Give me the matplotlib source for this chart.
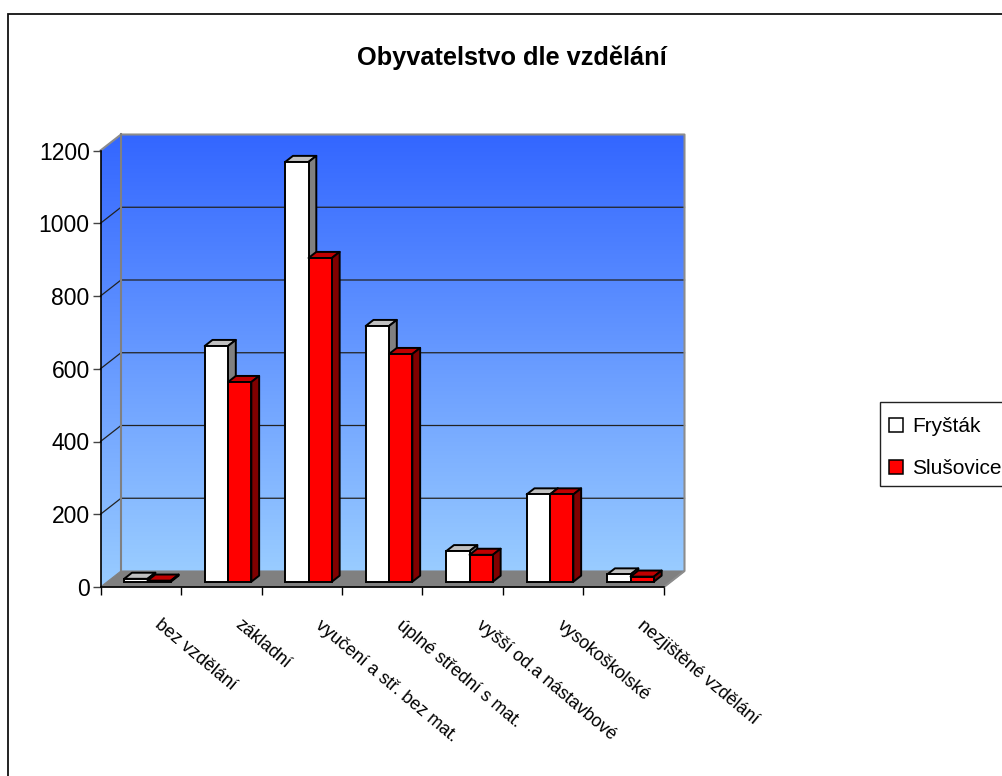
import matplotlib
matplotlib.use("Agg")
import matplotlib.pyplot as plt
from matplotlib.colors import LinearSegmentedColormap
from matplotlib.patches import Patch, Polygon, Rectangle
import numpy as np

plt.rcParams['font.family'] = ['Liberation Sans', 'DejaVu Sans']

categories = ['bez vzdělání', 'základní', 'vyučení a stř. bez mat.', 'úplné střední s mat.',
              'vyšší od.a nástavbové', 'vysokoškolské', 'nezjištěné vzdělání']
frystak = [8, 648, 1154, 703, 84, 240, 20]
slusovice = [3, 549, 890, 626, 74, 240, 14]
yticks = [0, 200, 400, 600, 800, 1000, 1200]

W, H = 1003, 776
fig = plt.figure(figsize=(W / 100, H / 100), dpi=100)
fig.patches.append(Rectangle((8.5 / W, -0.1), 1.2, (H - 13.5) / H + 0.1, transform=fig.transFigure,
                             fc='white', ec='#111111', lw=1.3, zorder=-1))
# legend frame runs off the right edge
fig.patches.append(Rectangle((880.5 / W, (H - 486) / H), 0.2, 84 / H, transform=fig.transFigure,
                             fc='white', ec='#222222', lw=1.0, zorder=-0.5))

# front plane of the 3d box, in pixels
left, right, top, bottom = 100.5, 664, 150.5, 587
ax = fig.add_axes([left / W, (H - bottom) / H, (right - left) / W, (bottom - top) / H])
ax.patch.set_visible(False)
n = len(categories)

# depth of the box in data units
DX = 20.5 / ((right - left) / n)
DY = 16 / ((bottom - top) / 1200)


def proj(x, v, d):
    return (x + d * DX, v + d * DY)


# walls
cmap = LinearSegmentedColormap.from_list('wall', ['#3366FF', '#99CCFF'])
grad = np.linspace(0, 1, 256).reshape(-1, 1)
ax.imshow(grad, cmap=cmap, aspect='auto', extent=(DX, n + DX, DY, 1200 + DY), zorder=1, clip_on=False)
side = Polygon([proj(0, 0, 0), proj(0, 0, 1), proj(0, 1200, 1), proj(0, 1200, 0)], closed=True,
               transform=ax.transData, fc='none', ec='none')
ax.add_patch(side)
im = ax.imshow(grad, cmap=cmap, aspect='auto', extent=(0, DX, 0, 1200 + DY), zorder=1, clip_on=True)
im.set_clip_path(side)
im.set_clip_box(fig.bbox)
ax.add_patch(Polygon([proj(0, 0, 0), proj(n, 0, 0), proj(n, 0, 1), proj(0, 0, 1)], closed=True,
                     fc='#808080', ec='#808080', lw=0.8, zorder=2, clip_on=False))
ax.set_xlim(0, n)
ax.set_ylim(0, 1200)

# gridlines
for t in yticks[1:-1]:
    ax.plot(*zip(proj(0, t, 0), proj(0, t, 1), proj(n, t, 1)), color='#222222', lw=0.9, zorder=3, clip_on=False)
# box edges
ax.plot(*zip(proj(0, 1200, 0), proj(0, 1200, 1), proj(n, 1200, 1), proj(n, 0, 1), proj(n, 0, 0)),
        color='#8c8c8c', lw=1.5, zorder=3, clip_on=False)
ax.plot(*zip(proj(0, 0, 1), proj(0, 1200, 1)), color='#808080', lw=1.5, zorder=3, clip_on=False)

# bars
d0, d1 = 0.33, 0.71
bw = 0.29
z = 5
for vals, off, front, top_c, side_c in [(frystak, -bw, 'white', '#C0C0C0', '#808080'),
                                        (slusovice, 0, '#FF0000', '#C00000', '#800000')]:
    for i, v in enumerate(vals):
        x0 = i + 0.5 + off
        x1 = x0 + bw
        ax.add_patch(Polygon([proj(x0, v, d0), proj(x1, v, d0), proj(x1, v, d1), proj(x0, v, d1)], closed=True,
                             fc=top_c, ec='black', lw=1.4, zorder=z, clip_on=False, joinstyle='round'))
        ax.add_patch(Polygon([proj(x1, 0, d0), proj(x1, 0, d1), proj(x1, v, d1), proj(x1, v, d0)], closed=True,
                             fc=side_c, ec='black', lw=1.4, zorder=z, clip_on=False, joinstyle='round'))
        fx, fy = proj(x0, 0, d0)
        ax.bar(fx, v, bw, bottom=fy, align='edge', color=front, edgecolor='black', lw=1.4, zorder=z + 1, clip_on=False)
    z += 2

ax.set_xlim(0, n)
ax.set_ylim(0, 1200)
ax.set_yticks(yticks)
ax.set_xticks(range(n + 1))
ax.set_xticklabels([])
ax.tick_params(axis='y', length=5.8, width=1.0, color='#444444', labelsize=16.5, pad=2)
ax.tick_params(axis='x', length=5.8, width=1.0, color='black')
ax.spines['top'].set_visible(False)
ax.spines['right'].set_visible(False)
for s in ['left', 'bottom']:
    ax.spines[s].set_linewidth(1.2)
    ax.spines[s].set_color('black')
    ax.spines[s].set_zorder(4)

for i, lab in enumerate(categories):
    ax.annotate(lab, xy=(i + 0.5, 0), xytext=(16, -36), textcoords='offset pixels', rotation=-40,
                rotation_mode='anchor', ha='left', va='center', fontsize=12.9, color='black',
                annotation_clip=False)

fig.text(512 / W, 1 - 58 / H, 'Obyvatelstvo dle vzdělání', ha='center', va='center', fontsize=18.3,
         fontweight='bold')

handles = [Patch(fc='white', ec='black', lw=1.1, label='Fryšták'),
           Patch(fc='#FF0000', ec='black', lw=1.1, label='Slušovice')]
fig.legend(handles=handles, loc='upper left', bbox_to_anchor=(889.5 / W, 1 - 417 / H), borderaxespad=0,
           fontsize=15, frameon=False, handlelength=0.67, handleheight=0.67, handletextpad=0.43,
           labelspacing=1.1, borderpad=0)

fig.savefig('out.png', dpi=100)
